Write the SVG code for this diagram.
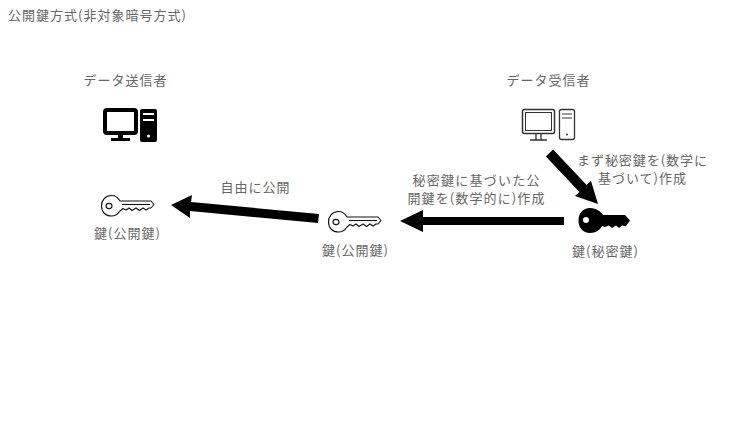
<svg xmlns="http://www.w3.org/2000/svg" width="750" height="422" viewBox="0 0 750 422">
<style>
text{font-family:"Noto Sans CJK JP","Noto Sans",sans-serif;font-size:13px;fill:#666;text-anchor:middle}
.s{fill:#fff;stroke:#111;stroke-width:1.100;stroke-linejoin:round}
</style>
<defs>
<symbol id="keyO" viewBox="0 0 54 22" overflow="visible">
<path class="s" d="M19 6C17 2.500 14 0.500 10.500 0.500C4.500 0.500 0.500 5 0.500 11C0.500 17 4.500 21 10.500 21C14 21 17 19 19 16L22 13.500L25 15L28 13L31 15.500L35 13L38.500 15.500L42 13L45 15L48 13L50 13L53 9.500L50 6Z"/>
<path class="s" d="M21 9.500H49"/>
<ellipse class="s" cx="8" cy="11" rx="3" ry="2.600"/>
</symbol>
</defs>
<rect width="750" height="422" fill="#fff"/>
<text x="97" y="20" textLength="178" lengthAdjust="spacing">公開鍵方式(非対象暗号方式)</text>
<g id="connectors">
<path d="M553.100 149.500L586.600 185L591 181L598 204L575 196L579.400 192L545.900 156.500Z" fill="#000"/>
<path d="M564 217V225H423V232L400 221L423 210V217Z" fill="#000"/>
<path d="M319 214L318 223L190 211L190 218L171 205L192 195L191 202Z" fill="#000"/>
</g>
<g id="sender">
<text x="125" y="85" textLength="83" lengthAdjust="spacing">データ送信者</text>
<rect x="105" y="110" width="31" height="23" rx="2" fill="#fff" stroke="#000" stroke-width="4"/>
<path d="M118 134h5v4h7v3h-19v-3h7Z" fill="#000"/>
<rect x="140" y="109" width="17" height="33" rx="2" fill="#000"/>
<path d="M143 114H154M143 120H154" stroke="#fff" stroke-width="2"/>
<circle cx="148.500" cy="136" r="1.500" fill="#fff"/>
</g>
<g id="receiver">
<text x="548" y="85" textLength="83" lengthAdjust="spacing">データ受信者</text>
<rect x="522.500" y="109.500" width="32" height="24" rx="2" fill="#fff" stroke="#333" stroke-width="1.500"/>
<rect x="525.500" y="112.500" width="26" height="18" fill="#fff" stroke="#333" stroke-width="1"/>
<path d="M536 134V140M541 134V140M530 140H547" fill="none" stroke="#333" stroke-width="1.300"/>
<rect x="559.500" y="109.500" width="15" height="30" rx="2" fill="#fff" stroke="#333" stroke-width="1.300"/>
<path d="M562 114H572M562 118H572" stroke="#333" stroke-width="1"/>
<circle cx="567" cy="134.500" r="1" fill="#333"/>
</g>
<g id="key-public-sender">
<use href="#keyO" x="101" y="195" width="54" height="22"/>
<text x="127" y="238" textLength="66" lengthAdjust="spacing">鍵(公開鍵)</text>
</g>
<g id="key-public">
<use href="#keyO" x="328" y="211" width="54" height="22"/>
<text x="355" y="255" textLength="66" lengthAdjust="spacing">鍵(公開鍵)</text>
</g>
<g id="key-private">
<path d="M590 208C597 208 601 212 603 215L625 215L630 220.500L626 226L622 225.500L619 228L616 225.500L612 228L609 225.500L605 227L602 226C600 230 596 233 590 233C583 233 578.500 228 578.500 220.500C578.500 213 583 208 590 208Z" fill="#000"/>
<circle cx="586" cy="220" r="3" fill="#fff"/>
<text x="605" y="256" textLength="66" lengthAdjust="spacing">鍵(秘密鍵)</text>
</g>
<g id="labels">
<text><tspan x="642" y="164.500" textLength="130" lengthAdjust="spacing">まず秘密鍵を(数学に</tspan><tspan x="642" y="182.500" textLength="88" lengthAdjust="spacing">基づいて)作成</tspan></text>
<text><tspan x="476" y="185" textLength="127" lengthAdjust="spacing">秘密鍵に基づいた公</tspan><tspan x="476" y="203" textLength="137" lengthAdjust="spacing">開鍵を(数学的に)作成</tspan></text>
<text x="255" y="192" textLength="69" lengthAdjust="spacing">自由に公開</text>
</g>
</svg>
